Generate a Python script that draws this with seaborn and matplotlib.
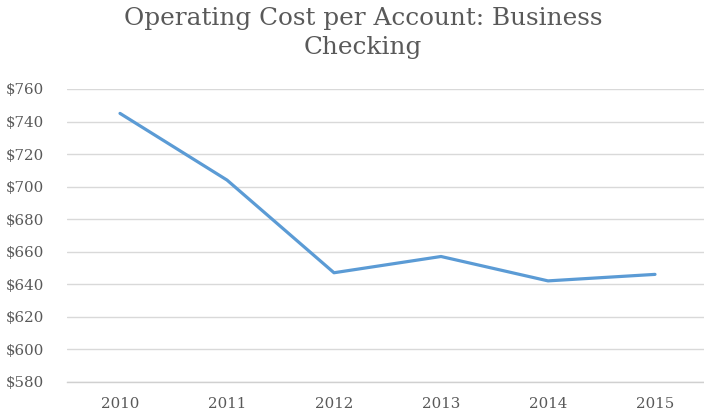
import matplotlib
matplotlib.use("Agg")
import matplotlib.pyplot as plt
import seaborn as sns
import pandas as pd
from matplotlib.ticker import FuncFormatter

years = ["2010", "2011", "2012", "2013", "2014", "2015"]
cost_per_account = [745, 704, 647, 657, 642, 646]
y_ticks = [580, 600, 620, 640, 660, 680, 700, 720, 740, 760]

df = pd.DataFrame({"year": years, "cost": cost_per_account})

sns.set_theme(style="white")
plt.rcParams["font.family"] = ["DejaVu Serif"]

fig = plt.figure(figsize=(7.04, 4.17), dpi=100)
fig.patch.set_facecolor("white")
ax = fig.add_axes([66.5 / 704, 35.3 / 417, 642 / 704, 292.7 / 417])

sns.lineplot(data=df, x="year", y="cost", ax=ax, color="#5B9BD5",
             linewidth=2.3, sort=False)

ax.set_xlim(-0.5, len(years) - 0.5)
ax.set_ylim(y_ticks[0], y_ticks[-1])
ax.set_yticks(y_ticks)
ax.yaxis.set_major_formatter(FuncFormatter(lambda v, p: f"${v:.0f}"))
ax.grid(axis="y", color="#D9D9D9", linewidth=1)
ax.grid(axis="x", visible=False)
ax.set_axisbelow(True)
for side in ["top", "right", "left"]:
    ax.spines[side].set_visible(False)
ax.spines["bottom"].set_color("#D0D0D0")
ax.spines["bottom"].set_linewidth(1)
ax.tick_params(axis="both", length=0, labelsize=10.8, labelcolor="#595959")
ax.tick_params(axis="y", pad=16)
ax.tick_params(axis="x", pad=11)
ax.set_xlabel("")
ax.set_ylabel("")

fig.text(363 / 704, 1 - 33 / 417,
         "Operating Cost per Account: Business\nChecking",
         ha="center", va="center", fontsize=17.8, color="#595959",
         linespacing=1.3)

fig.savefig("out.png", dpi=100, facecolor="white")
